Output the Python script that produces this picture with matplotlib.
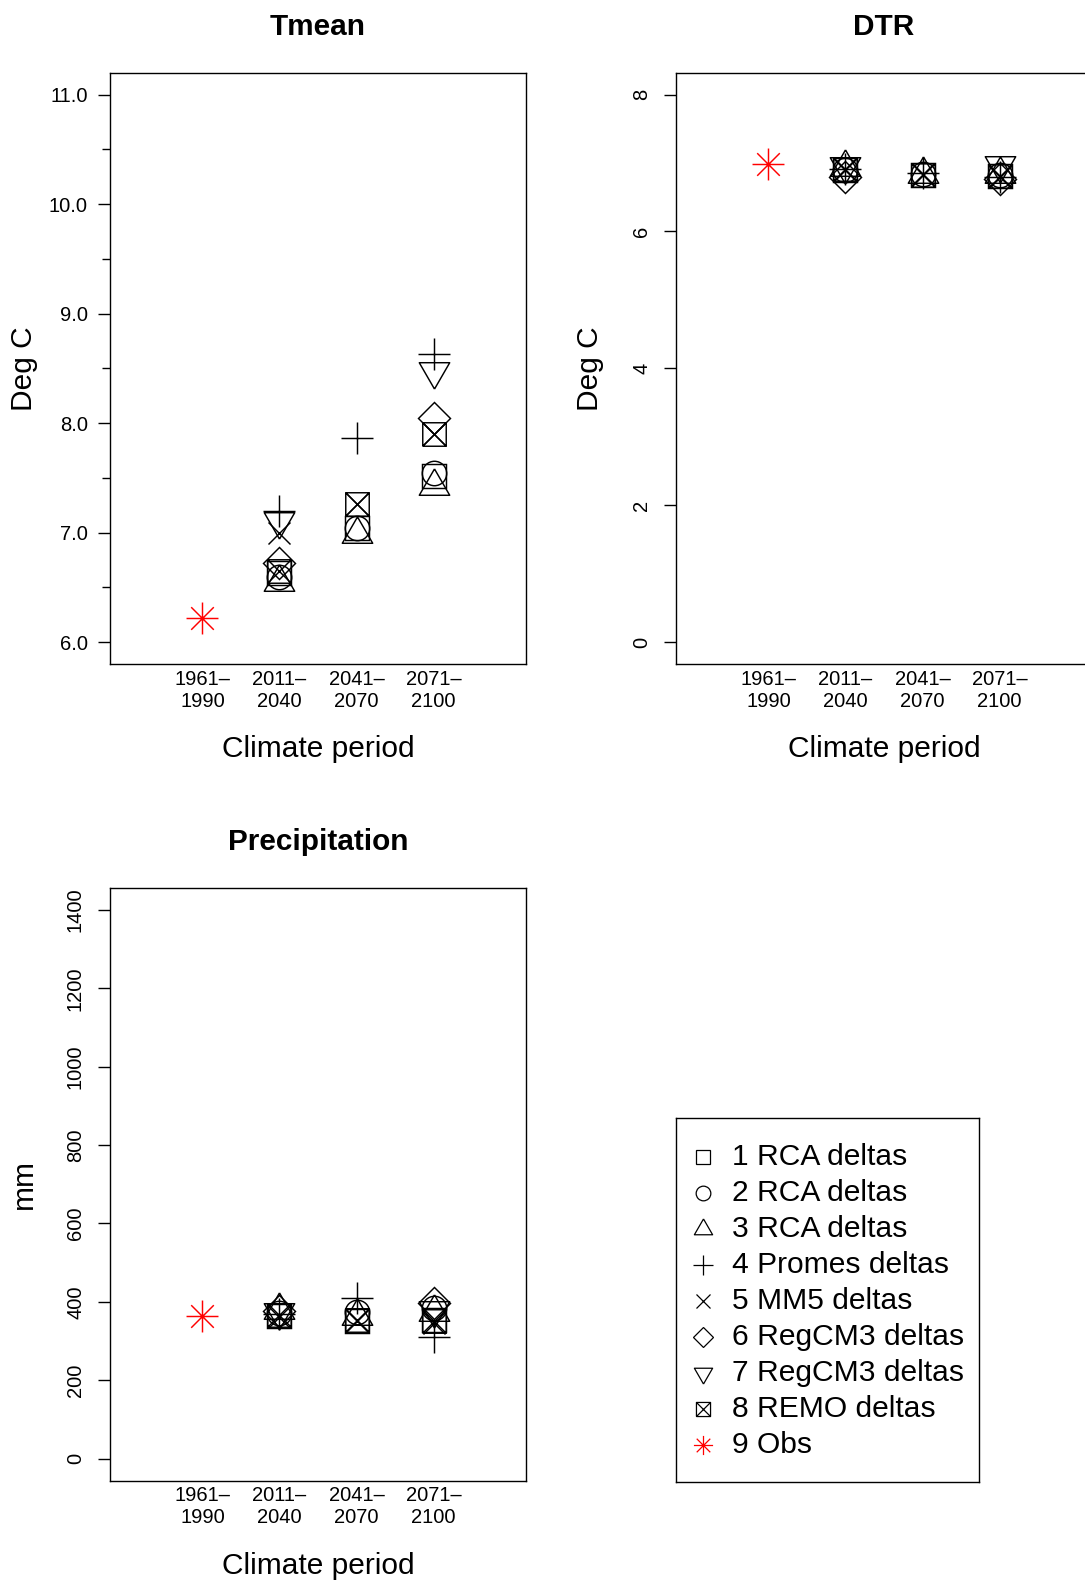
import numpy as np
import matplotlib
matplotlib.use("Agg")
import matplotlib.pyplot as plt
from matplotlib.path import Path

plt.rcParams["font.family"] = ["Liberation Sans", "DejaVu Sans"]

nan = np.nan

# climate periods on the x axis
periods = ["1961\u2013\n1990", "2011\u2013\n2040", "2041\u2013\n2070", "2071\u2013\n2100"]
legend_labels = ["1 RCA deltas", "2 RCA deltas", "3 RCA deltas", "4 Promes deltas",
                 "5 MM5 deltas", "6 RegCM3 deltas", "7 RegCM3 deltas", "8 REMO deltas",
                 "9 Obs"]

# observed 1961-1990 values
tmean_obs = 6.22
dtr_obs = 6.99
precip_obs = 363

# model values for 2011-2040, 2041-2070, 2071-2100 (rows: models 1..8)
tmean_mod = [
    [6.63, 7.04, 7.52],
    [6.59, 7.04, 7.54],
    [6.55, 6.99, 7.43],
    [7.20, 7.86, 8.63],
    [7.00, 7.26, 7.90],
    [6.72, nan, 8.05],
    [7.11, nan, 8.48],
    [6.65, 7.26, 7.90],
]
dtr_mod = [
    [6.90, 6.83, 6.81],
    [6.90, 6.84, 6.82],
    [6.94, 6.84, 6.84],
    [6.92, 6.86, 6.80],
    [6.90, 6.84, 6.80],
    [6.80, nan, 6.77],
    [6.95, nan, 6.97],
    [6.91, 6.83, 6.81],
]
precip_mod = [
    [365, 352, 355],
    [372, 375, 385],
    [380, 365, 375],
    [370, 410, 310],
    [362, 350, 345],
    [378, nan, 398],
    [375, nan, 380],
    [366, 355, 350],
]

# R-like symbols
a = np.sqrt(0.5)
tri_up = Path([(0, 1), (-0.866, -0.5), (0.866, -0.5), (0, 1)])
tri_dn = Path([(0, -1), (-0.866, 0.5), (0.866, 0.5), (0, -1)])
boxx = Path([(-1, -1), (1, -1), (1, 1), (-1, 1), (-1, -1),
             (-1, -1), (1, 1), (-1, 1), (1, -1)],
            [1, 2, 2, 2, 2, 1, 2, 1, 2])
star = Path([(-1, 0), (1, 0), (0, -1), (0, 1),
             (-a, -a), (a, a), (-a, a), (a, -a)],
            [1, 2, 1, 2, 1, 2, 1, 2])
markers = ["s", "o", tri_up, "+", "x", "D", tri_dn, boxx, star]
msizes = [16.9, 17.6, 25.3, 23, 16.3, 16.3, 25.3, 16.9, 23]
colors = ["black"] * 8 + ["red"]

x_obs = 1
x_mod = np.array([2, 3, 4])

W, H = 1085, 1582
fig = plt.figure(figsize=(W / 100, H / 100), dpi=100)


def px_axes(l, t, r, b):
    return fig.add_axes([l / W, 1 - b / H, (r - l) / W, (b - t) / H])


def panel(ax, obs, mod, title, ylab, ylim):
    for i in range(8):
        ax.plot(x_mod, mod[i], linestyle="none", marker=markers[i],
                ms=msizes[i], mfc="none", mec="black", mew=1.05)
    ax.plot([x_obs], [obs], linestyle="none", marker=markers[8],
            ms=msizes[8], mfc="none", mec="red", mew=1.05)
    ax.set_xlim(-0.2, 5.2)
    rng = ylim[1] - ylim[0]
    ax.set_ylim(ylim[0] - 0.04 * rng, ylim[1] + 0.04 * rng)
    ax.set_xticks([1, 2, 3, 4], periods)
    ax.tick_params(axis="x", length=0, pad=4, labelsize=14.5)
    for lab in ax.get_xticklabels():
        lab.set_linespacing(1.22)
    ax.set_title(title, fontsize=21.4, fontweight="bold", pad=27)
    ax.set_xlabel("Climate period", fontsize=21.5)
    ax.xaxis.set_label_coords(0.5, -0.144)
    ax.xaxis.label.set_va("center")
    ax.set_ylabel(ylab, fontsize=21.5)
    ax.yaxis.set_label_coords(-0.206, 0.5)
    ax.yaxis.label.set_va("center")
    for s in ax.spines.values():
        s.set_linewidth(1.0)


# Tmean
ax1 = px_axes(110, 72.7, 526, 664)
panel(ax1, tmean_obs, tmean_mod, "Tmean", "Deg C", (6, 11))
ax1.set_yticks(np.arange(6, 11.01, 1.0), ["%.1f" % v for v in np.arange(6, 11.01, 1.0)])
ax1.set_yticks(np.arange(6.5, 10.6, 1.0), minor=True)
ax1.tick_params(axis="y", which="major", length=9, width=1, pad=7, labelsize=14.5)
ax1.tick_params(axis="y", which="minor", length=5.5, width=1)

# DTR
ax2 = px_axes(676, 72.7, 1092, 664)
panel(ax2, dtr_obs, dtr_mod, "DTR", "Deg C", (0, 8))
ax2.set_yticks([0, 2, 4, 6, 8])
ax2.tick_params(axis="y", length=9, width=1, pad=9, labelsize=14.5, labelrotation=90)
for lab in ax2.get_yticklabels():
    lab.set_va("center")

# Precipitation
ax3 = px_axes(110, 888, 526, 1480.6)
panel(ax3, precip_obs, precip_mod, "Precipitation", "mm", (0, 1400))
ax3.set_yticks(np.arange(0, 1401, 200))
ax3.tick_params(axis="y", length=9, width=1, pad=9, labelsize=14.5, labelrotation=90)
for lab in ax3.get_yticklabels():
    lab.set_va("center")

# legend panel
axl = px_axes(676, 1118, 979, 1482)
axl.set_xlim(0, 303)
axl.set_ylim(364, 0)
axl.set_xticks([])
axl.set_yticks([])
for s in axl.spines.values():
    s.set_linewidth(1.0)
for i, lab in enumerate(legend_labels):
    yy = 38.7 + 36.04 * i
    axl.plot([27], [yy], linestyle="none", marker=markers[i], ms=msizes[i] * 0.6,
             mfc="none", mec=colors[i], mew=0.9)
    axl.text(55.7, yy, lab, fontsize=21.6, va="center", ha="left")

fig.savefig("out.png", dpi=100)
